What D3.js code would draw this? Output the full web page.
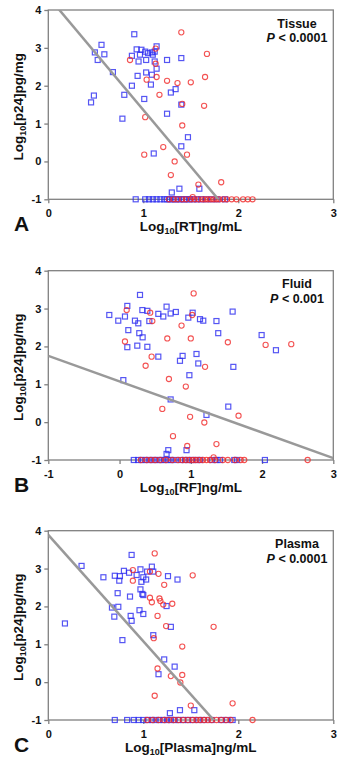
<!DOCTYPE html>
<html>
<head>
<meta charset="utf-8">
<script src="https://cdn.jsdelivr.net/npm/d3@7"></script>
<style>
  body { margin: 0; background: #fff; }
  svg text { font-family: "Liberation Sans", Arial, sans-serif; font-weight: bold; fill: #111; }
</style>
</head>
<body>
<svg id="chart" width="338" height="758"></svg>
<script>
// DATA GO HERE (log10 values)
var yTicks = [-1, 0, 1, 2, 3, 4];
var floorY = -1; // undetectable p24 values sit on the -1 line

// Panel A - tissue RT
var tissueBlue = [[0.905,3.36],[0.56,3.08],[0.49,2.88],[0.59,2.83],[0.52,2.68],[0.68,2.36],[0.88,2.79],[0.93,2.96],
  [0.98,2.95],[0.95,2.64],[0.965,2.82],[1.02,2.9],[1.05,2.86],[1.09,2.88],[1.10,2.82],[1.12,2.9],[1.14,3.04],[1.03,2.68],
  [1.12,2.64],[1.25,2.68],[1.40,2.73],[1.03,2.35],[1.09,2.29],[1.14,2.45],[0.94,2.26],[1.08,2.03],[0.88,2.0],[0.80,1.76],
  [0.48,1.74],[0.45,1.56],[1.01,1.65],[1.29,1.82],[1.34,1.91],[1.40,1.5],[0.78,1.13],[1.25,1.26],[1.47,0.64],[1.40,0.40],
  [1.11,0.21],[1.38,-0.72],[1.30,-0.82],[1.59,-0.72]];
var tissueRed = [[1.40,3.41],[1.67,2.84],[0.86,2.68],[1.13,2.98],[1.13,2.58],[1.035,2.16],[1.14,2.23],[1.25,2.13],
  [1.36,2.07],[1.50,2.09],[1.65,2.23],[1.17,1.76],[1.41,1.52],[1.64,1.47],[1.02,1.17],[1.41,0.95],[1.21,0.38],
  [1.01,0.18],[1.46,0.18],[1.33,0.0],[1.29,-0.36],[1.58,-0.61],[1.82,-0.55],[1.52,-0.94]];
var tissueBlueFloor = [0.92,1.02,1.06,1.10,1.14,1.18,1.22,1.25,1.28,1.31,1.34,1.37,1.40,1.43,1.46,1.49,1.53,1.57,1.61,1.66,1.72,1.78,1.86];
var tissueRedFloor = [1.27,1.32,1.36,1.41,1.45,1.50,1.54,1.58,1.62,1.65,1.68,1.71,1.74,1.77,1.80,1.84,1.88,1.93,1.98,2.05,2.10,2.15];
var tissueFit = [-2.99, 4.35]; // slope, intercept

// Panel B - fluid RF
var fluidBlue = [[0.287,3.36],[-0.144,2.83],[-0.018,2.68],[0.076,2.79],[0.109,3.07],[0.123,2.43],[0.109,1.98],[0.053,1.11],
  [0.216,2.68],[0.263,2.61],[0.277,2.35],[0.324,2.24],[0.249,2.02],[0.39,1.99],[0.32,2.96],[0.39,2.94],[0.418,2.67],
  [0.544,2.86],[0.614,2.79],[0.66,3.05],[0.717,2.87],[0.79,2.91],[0.544,1.73],[0.885,1.75],[0.848,1.62],[0.965,2.76],
  [1.026,2.89],[1.129,2.72],[1.175,2.68],[1.36,2.67],[1.385,2.35],[1.587,2.92],[1.08,1.80],[1.105,1.55],[0.98,1.24],
  [1.994,2.30],[2.195,1.90],[1.597,1.46],[0.717,0.60],[1.22,0.19],[1.526,0.41],[0.94,-0.74],[0.684,-0.74],[0.66,-0.84]];
var fluidRed = [[1.04,3.40],[0.10,2.96],[0.43,2.89],[0.46,2.67],[0.87,2.55],[1.02,2.83],[0.076,2.13],[0.67,2.21],
  [1.0,2.21],[1.52,2.11],[2.05,2.04],[2.41,2.06],[0.45,1.73],[0.366,1.49],[1.2,1.46],[0.693,1.14],[0.93,0.94],
  [0.60,0.35],[0.99,0.14],[1.67,0.17],[1.19,-0.01],[0.75,-0.37],[0.95,-0.63],[1.36,-0.58],[1.32,-0.93]];
var fluidBlueFloor = [0.20,0.26,0.31,0.36,0.41,0.46,0.50,0.55,0.59,0.63,0.68,0.72,0.77,0.86,0.92,0.97,1.02,1.08,1.13,1.30,1.36,1.41,1.61,1.65,2.04];
var fluidRedFloor = [0.30,0.38,0.44,0.50,0.57,0.65,0.74,0.82,0.88,0.93,0.98,1.03,1.07,1.12,1.17,1.22,1.27,1.34,1.45,1.52,1.62,1.70,1.75,2.64];
var fluidFit = [-0.675, 1.075];

// Panel C - plasma
var plasmaBlue = [[0.877,3.36],[0.35,3.07],[0.175,1.55],[0.58,2.77],[0.70,2.81],[0.754,2.80],[0.796,2.94],[0.747,2.68],
  [0.73,2.35],[0.86,2.26],[0.737,1.99],[0.67,1.97],[0.695,1.73],[0.867,1.75],[0.877,1.62],[0.78,1.11],[0.85,2.89],
  [0.93,2.83],[0.97,2.98],[1.0,2.77],[0.98,2.65],[1.03,2.71],[1.04,2.92],[1.09,3.05],[1.105,2.92],[0.97,2.45],
  [0.99,2.33],[1.0,2.30],[0.96,1.90],[1.0,1.80],[1.26,2.80],[1.36,2.71],[1.245,2.01],[1.29,1.46],[1.105,1.24],
  [1.22,0.60],[1.33,0.41],[1.16,0.21],[1.386,-0.74],[1.537,-0.74],[1.28,-0.82]];
var plasmaRed = [[1.12,3.40],[0.89,2.96],[1.07,2.92],[1.16,2.86],[1.52,2.82],[0.89,2.68],[1.22,2.57],[1.07,2.23],
  [1.17,2.21],[1.18,2.14],[1.09,2.11],[1.21,2.05],[1.305,2.07],[1.15,1.75],[1.24,1.48],[1.74,1.46],[1.11,1.16],
  [1.41,0.94],[1.15,0.36],[1.41,0.19],[1.29,0.16],[1.39,-0.01],[1.12,-0.36],[1.50,-0.62],[1.94,-0.56]];
var plasmaBlueFloor = [0.70,0.83,0.90,0.95,1.00,1.05,1.09,1.13,1.17,1.21,1.25,1.29,1.33,1.37,1.42,1.47,1.52,1.58,1.64,1.72,1.82,1.88,1.94];
var plasmaRedFloor = [1.04,1.10,1.16,1.22,1.27,1.32,1.37,1.42,1.47,1.52,1.56,1.60,1.64,1.68,1.72,1.77,1.82,1.87,1.92,2.15];
var plasmaFit = [-2.81, 3.89];

var panels = [
  {id: "A", label: "Tissue", p: "< 0.0001", xName: "RT", xDomain: [0, 3], xTicks: [0,1,2,3], top: 10,
   blue: tissueBlue, red: tissueRed, blueFloor: tissueBlueFloor, redFloor: tissueRedFloor, fit: tissueFit},
  {id: "B", label: "Fluid", p: "< 0.001", xName: "RF", xDomain: [-1, 3], xTicks: [-1,0,1,2,3], top: 270.7,
   blue: fluidBlue, red: fluidRed, blueFloor: fluidBlueFloor, redFloor: fluidRedFloor, fit: fluidFit},
  {id: "C", label: "Plasma", p: "< 0.0001", xName: "Plasma", xDomain: [0, 3], xTicks: [0,1,2,3], top: 530.7,
   blue: plasmaBlue, red: plasmaRed, blueFloor: plasmaBlueFloor, redFloor: plasmaRedFloor, fit: plasmaFit}
];

var left = 48.3, right = 333.3, plotH = 189.3;
var frameColor = "#808080";
var svg = d3.select("#chart");

document.addEventListener('DOMContentLoaded', function () {
  panels.forEach(drawPanel);
}, false);

function drawPanel(p) {
  var top = p.top, bottom = p.top + plotH;
  var x = d3.scaleLinear().domain(p.xDomain).range([left, right]);
  var y = d3.scaleLinear().domain([-1, 4]).range([bottom, top]);
  var g = svg.append("g");

  // axes
  var ya = g.append("g").attr("transform", "translate(" + left + ",0)")
    .call(d3.axisLeft(y).tickValues(yTicks).tickSize(4).tickPadding(3).tickFormat(d3.format("d")));
  var xa = g.append("g").attr("transform", "translate(0," + bottom + ")")
    .call(d3.axisBottom(x).tickValues(p.xTicks).tickSize(4).tickPadding(6).tickFormat(d3.format("d")));
  [ya, xa].forEach(function(a){
    a.select(".domain").remove();
    a.selectAll("line").attr("stroke", frameColor).attr("stroke-width", 1.3);
    a.selectAll("text").attr("font-size", 11).attr("fill", "#111")
      .attr("font-family", "'Liberation Sans', Arial, sans-serif").attr("font-weight", "bold")
      .text(function(d){ return d < 0 ? "-" + Math.abs(d) : d; });
  });

  g.append("rect")
    .attr("x", left).attr("y", top)
    .attr("width", right - left).attr("height", bottom - top)
    .attr("fill", "none").attr("stroke", frameColor).attr("stroke-width", 1.3);

  var clipId = "clip" + p.id;
  g.append("clipPath").attr("id", clipId).append("rect")
    .attr("x", left).attr("y", top).attr("width", right - left).attr("height", bottom - top);

  var blueAll = p.blue.concat(p.blueFloor.map(function(v){ return [v, floorY]; }));
  var redAll = p.red.concat(p.redFloor.map(function(v){ return [v, floorY]; }));
  var s = 5;

  g.append("g").selectAll("rect")
    .data(blueAll)
    .enter()
    .append("rect")
    .attr("x", function(d){ return x(d[0]) - s/2; })
    .attr("y", function(d){ return y(d[1]) - s/2; })
    .attr("width", s).attr("height", s)
    .attr("fill", "none").attr("stroke", "#2a2af0").attr("stroke-opacity", 0.8).attr("stroke-width", 1.2);

  g.append("g").selectAll("circle")
    .data(redAll)
    .enter()
    .append("circle")
    .attr("cx", function(d){ return x(d[0]); })
    .attr("cy", function(d){ return y(d[1]); })
    .attr("r", 2.6)
    .attr("fill", "none").attr("stroke", "#f02828").attr("stroke-opacity", 0.8).attr("stroke-width", 1.1);

  // regression line
  var xs = p.xDomain;
  g.append("line")
    .attr("clip-path", "url(#" + clipId + ")")
    .attr("x1", x(xs[0])).attr("y1", y(p.fit[0] * xs[0] + p.fit[1]))
    .attr("x2", x(xs[1])).attr("y2", y(p.fit[0] * xs[1] + p.fit[1]))
    .attr("stroke", "#999").attr("stroke-width", 2.5);

  // annotation
  g.append("text").attr("x", 297).attr("y", top + 17.5).attr("text-anchor", "middle")
    .attr("font-size", 12.5).text(p.label);
  var pt = g.append("text").attr("x", 297).attr("y", top + 32).attr("text-anchor", "middle")
    .attr("font-size", 12.5);
  pt.append("tspan").attr("font-style", "italic").text("P");
  pt.append("tspan").text(" " + p.p);

  // axis titles
  var xt = g.append("text").attr("x", (left + right) / 2).attr("y", bottom + 32)
    .attr("text-anchor", "middle").attr("font-size", 13.5);
  xt.append("tspan").text("Log");
  xt.append("tspan").attr("font-size", 9).attr("dy", 3).text("10");
  xt.append("tspan").attr("dy", -3).text("[" + p.xName + "]ng/mL");

  var yt = g.append("text")
    .attr("transform", "translate(23," + ((top + bottom) / 2 + 2) + ") rotate(-90)")
    .attr("text-anchor", "middle").attr("font-size", 13.5);
  yt.append("tspan").text("Log");
  yt.append("tspan").attr("font-size", 9).attr("dy", 3).text("10");
  yt.append("tspan").attr("dy", -3).text("[p24]pg/mg");

  g.append("text").attr("x", 14).attr("y", bottom + 32)
    .attr("font-size", 21).text(p.id);
}
</script>
</body>
</html>
